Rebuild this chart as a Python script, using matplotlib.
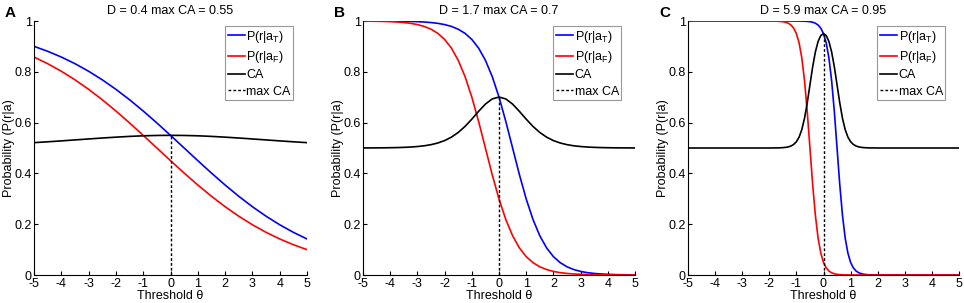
import numpy as np
import matplotlib
matplotlib.use('Agg')
import matplotlib.pyplot as plt

plt.rcParams['font.family'] = ['Liberation Sans', 'DejaVu Sans']
plt.rcParams['mathtext.default'] = 'regular'
plt.rcParams['axes.unicode_minus'] = False

# panel parameters
letters = ['A', 'B', 'C']
D_vals = [0.4, 1.7, 5.9]
max_ca = [0.55, 0.7, 0.95]
max_theta = [0, 0, 0]

# panel A (step 0.5)
theta_A = np.arange(-5, 5.01, 0.5)
pT_A = [0.9002, 0.8808, 0.8581, 0.8320, 0.8022, 0.7685, 0.7311, 0.6900, 0.6457, 0.5987, 0.5498,
        0.5000, 0.4502, 0.4013, 0.3543, 0.3100, 0.2689, 0.2315, 0.1978, 0.1680, 0.1419]
pF_A = [0.8581, 0.8320, 0.8022, 0.7685, 0.7311, 0.6900, 0.6457, 0.5987, 0.5498, 0.5000, 0.4502,
        0.4013, 0.3543, 0.3100, 0.2689, 0.2315, 0.1978, 0.1680, 0.1419, 0.1192, 0.0998]
ca_A = [0.5211, 0.5244, 0.5280, 0.5318, 0.5356, 0.5393, 0.5427, 0.5457, 0.5480, 0.5494, 0.5498,
        0.5494, 0.5480, 0.5457, 0.5427, 0.5393, 0.5356, 0.5318, 0.5280, 0.5244, 0.5211]

# panel B (step 0.25)
theta_B = np.arange(-5, 5.001, 0.25)
pT_B = [0.9999, 0.9999, 0.9998, 0.9997, 0.9995, 0.9993, 0.9989, 0.9983, 0.9974, 0.9960, 0.9939,
        0.9908, 0.9859, 0.9787, 0.9677, 0.9514, 0.9276, 0.8933, 0.8455, 0.7816, 0.7006, 0.6047,
        0.5000, 0.3953, 0.2994, 0.2184, 0.1545, 0.1067, 0.0724, 0.0486, 0.0323, 0.0214, 0.0141,
        0.0092, 0.0061, 0.0040, 0.0026, 0.0017, 0.0011, 0.0007, 0.0005]
pF_B = [0.9995, 0.9993, 0.9989, 0.9983, 0.9974, 0.9960, 0.9939, 0.9908, 0.9859, 0.9787, 0.9677,
        0.9514, 0.9276, 0.8933, 0.8455, 0.7816, 0.7006, 0.6047, 0.5000, 0.3953, 0.2994, 0.2184,
        0.1545, 0.1067, 0.0724, 0.0486, 0.0323, 0.0214, 0.0141, 0.0092, 0.0061, 0.0040, 0.0026,
        0.0017, 0.0011, 0.0007, 0.0005, 0.0003, 0.0002, 0.0001, 0.0001]
ca_B = [0.5002, 0.5003, 0.5005, 0.5007, 0.5011, 0.5017, 0.5025, 0.5038, 0.5058, 0.5087, 0.5131,
        0.5197, 0.5292, 0.5427, 0.5611, 0.5849, 0.6135, 0.6443, 0.6728, 0.6932, 0.7006, 0.6932,
        0.6728, 0.6443, 0.6135, 0.5849, 0.5611, 0.5427, 0.5292, 0.5197, 0.5131, 0.5087, 0.5058,
        0.5038, 0.5025, 0.5017, 0.5011, 0.5007, 0.5005, 0.5003, 0.5002]

# panel C (dense near 0)
theta_C = np.concatenate([[-5, -4.5, -4, -3.5, -3, -2.5],
                          np.round(np.arange(-2, 2.001, 0.1), 1),
                          [2.5, 3, 3.5, 4, 4.5, 5]])
pT_C = ([1.0] * 16 +
        [0.9999, 0.9997, 0.9995, 0.9992, 0.9985, 0.9973, 0.9951, 0.9912, 0.9842, 0.9718, 0.9503,
         0.9137, 0.8545, 0.7649, 0.6434, 0.5000, 0.3566, 0.2351, 0.1455, 0.0863, 0.0497, 0.0282,
         0.0158, 0.0088, 0.0049, 0.0027, 0.0015, 0.0008, 0.0005, 0.0003, 0.0001] +
        [0.0] * 6)
pF_C = ([1.0] * 7 +
        [0.9997, 0.9995, 0.9992, 0.9985, 0.9973, 0.9951, 0.9912, 0.9842, 0.9718, 0.9503,
         0.9137, 0.8545, 0.7649, 0.6434, 0.5000, 0.3566, 0.2351, 0.1455, 0.0863, 0.0497, 0.0282,
         0.0158, 0.0088, 0.0049, 0.0027, 0.0015, 0.0008, 0.0005, 0.0003, 0.0001] +
        [0.0] * 16)
ca_C = ([0.5] * 7 +
        [0.5002, 0.5003, 0.5004, 0.5008, 0.5014, 0.5025, 0.5044, 0.5079, 0.5141, 0.5248, 0.5430,
         0.5725, 0.6172, 0.6776, 0.7487, 0.8193, 0.8781, 0.9194, 0.9428, 0.9503, 0.9428, 0.9194,
         0.8781, 0.8193, 0.7487, 0.6776, 0.6172, 0.5725, 0.5430, 0.5248, 0.5141, 0.5079, 0.5044,
         0.5025, 0.5014, 0.5008, 0.5004, 0.5003, 0.5002] +
        [0.5] * 7)

thetas = [theta_A, theta_B, theta_C]
pTs = [pT_A, pT_B, pT_C]
pFs = [pF_A, pF_B, pF_C]
cas = [ca_A, ca_B, ca_C]

fig = plt.figure(figsize=(9.64, 3.03), dpi=100)
lefts = [34, 363, 688]
widths = [273, 272, 271]
W, H = 964.0, 303.0

for i in range(3):
    ax = fig.add_axes([lefts[i] / W, 28 / H, widths[i] / W, 254 / H])
    ax.plot(thetas[i], pTs[i], color='b', lw=1.2, label='P(r|a$_T$)')
    ax.plot(thetas[i], pFs[i], color='r', lw=1.2, label='P(r|a$_F$)')
    ax.plot(thetas[i], cas[i], color='k', lw=1.2, label='CA')
    ax.plot([max_theta[i], max_theta[i]], [0, max_ca[i]], color='k', lw=1.0,
            linestyle=(0, (2, 1.5)), label='max CA')

    ax.set_xlim(-5, 5)
    ax.set_ylim(0, 1)
    ax.set_xticks(range(-5, 6))
    ax.set_yticks([0, 0.2, 0.4, 0.6, 0.8, 1])
    ax.set_yticklabels(['0', '0.2', '0.4', '0.6', '0.8', '1'])
    ax.tick_params(direction='in', length=3, labelsize=9, pad=2)
    ax.tick_params(axis='y', pad=1.5)
    ax.spines['top'].set_visible(False)
    ax.spines['right'].set_visible(False)
    ax.set_xlabel('Threshold θ', fontsize=9, labelpad=0)
    ax.set_ylabel('Probability (P(r|a)', fontsize=9, labelpad=0)
    ax.set_title('D = %s max CA = %s' % (D_vals[i], max_ca[i]), fontsize=9, pad=5)

    leg = ax.legend(loc='upper right', bbox_to_anchor=(0.95, 0.98), fontsize=9,
                    handlelength=1.4, handletextpad=0.1, labelspacing=0.35,
                    borderpad=0.2, borderaxespad=0, fancybox=False, framealpha=1)
    leg.get_frame().set_edgecolor('#999999')
    leg.get_frame().set_linewidth(0.8)

    fig.text((lefts[i] - 29) / W, 1 - 17 / H, letters[i], fontsize=11, fontweight='bold')

fig.savefig('out.png', dpi=100)
